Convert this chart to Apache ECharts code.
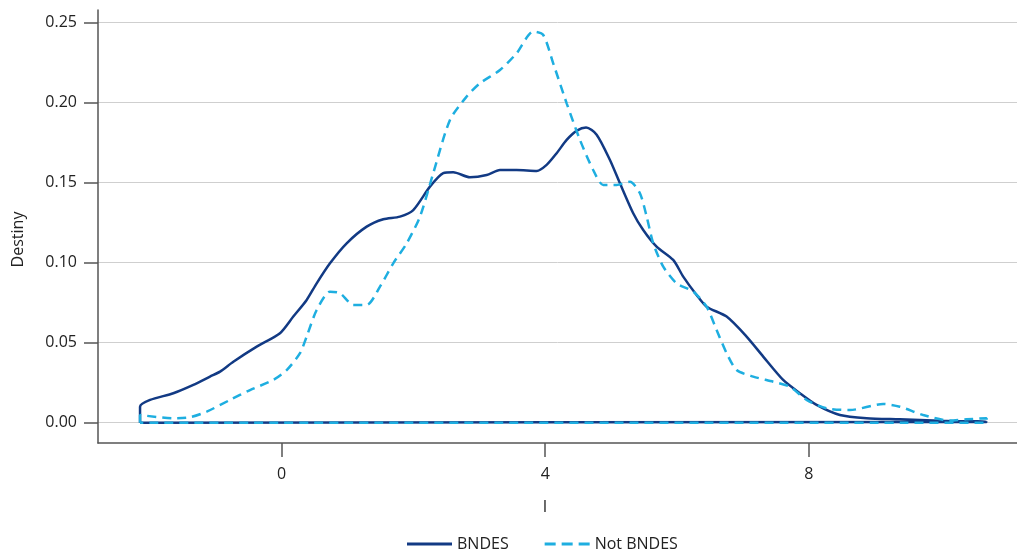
<!DOCTYPE html>
<html>
<head>
<meta charset="utf-8">
<script src="https://cdn.jsdelivr.net/npm/echarts@6/dist/echarts.min.js"></script>
<style>
  html, body { margin: 0; padding: 0; background: #fff; }
  #chart { width: 1017px; height: 553px; }
</style>
</head>
<body>
<div id="chart"></div>
<script>
// kernel density, BNDES
const bndesX = [-2.150, -2.150, -1.998, -1.645, -1.341, -1.088, -0.936, -0.734, -0.379, -0.026, 0.176, 0.379,
  0.531, 0.733, 0.986, 1.290, 1.542, 1.795, 1.997, 2.250, 2.452, 2.604, 2.857, 3.111, 3.313, 3.566, 3.870,
  4.021, 4.173, 4.325, 4.480, 4.620, 4.780, 4.982, 5.134, 5.335, 5.487, 5.690, 5.942, 6.094, 6.297, 6.449,
  6.753, 7.056, 7.308, 7.611, 7.865, 8.118, 8.472, 8.877, 9.382, 9.989, 10.698]
const bndesY = [0, 0.0100, 0.0142, 0.0184, 0.0236, 0.0288, 0.0319, 0.0381, 0.0475, 0.0559, 0.0663, 0.0767,
  0.0871, 0.0996, 0.1121, 0.1225, 0.1271, 0.1288, 0.1329, 0.1475, 0.1559, 0.1565, 0.1534, 0.1548, 0.1579, 0.1579, 0.1573,
  0.1611, 0.1684, 0.1767, 0.1825, 0.1845, 0.1800, 0.1642, 0.1496, 0.1309, 0.1204, 0.1100, 0.1017, 0.0913, 0.0798, 0.0725,
  0.0663, 0.0538, 0.0413, 0.0267, 0.0184, 0.0111, 0.0048, 0.0028, 0.0021, 0.0012, 0.0004]

// kernel density, Not BNDES
const notX = [-2.150, -2.150, -1.645, -1.391, -1.138, -0.785, -0.481, -0.127, 0.076, 0.278, 0.379, 0.531, 0.733,
  0.885, 1.087, 1.290, 1.492, 1.693, 1.897, 2.099, 2.300, 2.554, 2.807, 3.009, 3.313, 3.566, 3.818, 3.970,
  4.121, 4.325, 4.527, 4.728, 4.880, 5.083, 5.285, 5.437, 5.539, 5.639, 5.791, 5.994, 6.246, 6.449, 6.601,
  6.753, 6.904, 7.156, 7.460, 7.713, 7.967, 8.270, 8.623, 9.129, 9.382, 9.736, 10.140, 10.394, 10.698]
const notY = [0, 0.0048, 0.0028, 0.0034, 0.0069, 0.0142, 0.0204, 0.0267, 0.0329, 0.0434, 0.0538, 0.0704, 0.0819,
  0.0809, 0.0736, 0.0736, 0.0850, 0.0996, 0.1121, 0.1288, 0.1559, 0.1892, 0.2038, 0.2121, 0.2204, 0.2309, 0.2444, 0.2423,
  0.2246, 0.1996, 0.1767, 0.1579, 0.1486, 0.1486, 0.1506, 0.1434, 0.1288, 0.1121, 0.0975, 0.0871, 0.0819, 0.0725, 0.0579,
  0.0434, 0.0329, 0.0288, 0.0256, 0.0225, 0.0142, 0.0090, 0.0079, 0.0117, 0.0100, 0.0048, 0.0013, 0.0021, 0.0028]

const yTicks = [0, 0.05, 0.10, 0.15, 0.20, 0.25]
const xTicks = [0, 4, 8]

// curve then back along the baseline (closed like the stata kdensity plot)
function buildData(xs, ys) {
    let result = []
    xs.forEach((x, i) => {
        result.push([x, ys[i]])
    })
    result.push([xs[xs.length - 1], 0])
    result.push([xs[0], 0])
    return result
}

let chart = echarts.init(document.getElementById('chart'))

const font = 'Open Sans'
const axisColor = '#555'
const navy = '#123a84'
const cyan = '#1eaee0'

let option = {
    backgroundColor: '#fff',
    animation: false,
    textStyle: { fontFamily: font },
    grid: { left: 98, right: 0, top: 10, bottom: 110 },
    legend: {
        top: 531,
        left: 402,
        itemWidth: 45,
        itemHeight: 3,
        itemGap: 36,
        textStyle: { fontFamily: font, fontSize: 16, color: '#222' },
        data: [
            { name: 'BNDES', icon: 'rect', itemStyle: { color: navy } },
            { name: 'Not BNDES', icon: 'path://M0,0h11v3h-11zM17,0h11v3h-11zM34,0h11v3h-11z', itemStyle: { color: cyan } }
        ]
    },
    xAxis: {
        type: 'value',
        min: -2.788,
        max: 11.16,
        name: 'I',
        nameLocation: 'middle',
        nameGap: 56,
        nameTextStyle: { fontFamily: font, fontSize: 16, color: '#222', padding: [0, 25, 0, 0] },
        axisLine: { onZero: false, lineStyle: { color: axisColor, width: 1.5 } },
        axisTick: { length: 14, customValues: xTicks, lineStyle: { color: axisColor, width: 1.5 } },
        axisLabel: { customValues: xTicks, margin: 23, fontSize: 16, color: '#222' },
        splitLine: { show: false }
    },
    yAxis: {
        type: 'value',
        min: -0.0127,
        max: 0.2579,
        name: 'Destiny',
        nameLocation: 'middle',
        nameGap: 72,
        nameTextStyle: { fontFamily: font, fontSize: 16, color: '#222', padding: [0, 26, 0, 0] },
        axisLine: { show: true, onZero: false, lineStyle: { color: axisColor, width: 1.5 } },
        axisTick: { show: true, length: 14, customValues: yTicks, lineStyle: { color: axisColor, width: 1.5 } },
        axisLabel: {
            customValues: yTicks,
            margin: 21,
            fontSize: 16,
            color: '#222',
            formatter: v => v.toFixed(2)
        },
        splitLine: { show: true, lineStyle: { color: '#cfcfcf', width: 1 } }
    },
    series: [
        {
            name: 'BNDES',
            type: 'line',
            symbol: 'none',
            smooth: 0.25,
            color: navy,
            lineStyle: { width: 2.5, color: navy },
            data: buildData(bndesX, bndesY),
            z: 3
        },
        {
            name: 'Not BNDES',
            type: 'line',
            symbol: 'none',
            smooth: 0.25,
            color: cyan,
            lineStyle: { width: 2.5, color: cyan, type: [9, 6] },
            data: buildData(notX, notY),
            z: 4
        }
    ]
}

chart.setOption(option)
</script>
</body>
</html>
